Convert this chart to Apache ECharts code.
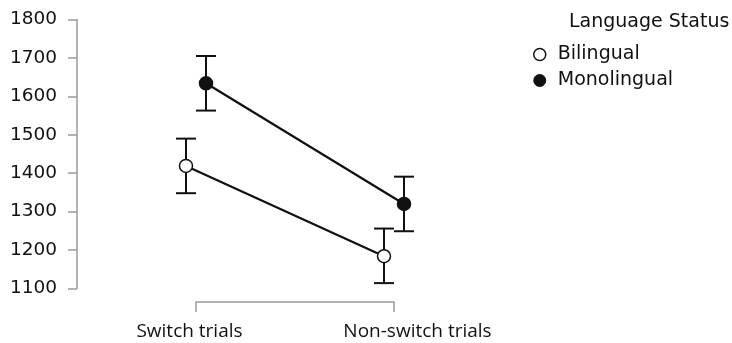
<!DOCTYPE html>
<html>
<head>
<meta charset="utf-8">
<script src="https://cdn.jsdelivr.net/npm/echarts@6/dist/echarts.min.js"></script>
<style>html,body{margin:0;padding:0;background:#fff;}#c{width:732px;height:343px;}</style>
</head>
<body>
<div id="c"></div>
<script>
const categories = ['Switch trials', 'Non-switch trials'];
const yTicks = [1100, 1200, 1300, 1400, 1500, 1600, 1700, 1800];
const bilingualMean = [1419, 1184];
const bilingualLow = [1348, 1114];
const bilingualHigh = [1490, 1256];
const monolingualMean = [1634, 1320];
const monolingualLow = [1563, 1249];
const monolingualHigh = [1705, 1391];

const INK = '#111';

function makeRender(mean, lo, hi, dx, fill) {
  return function (params, api) {
    const i = params.dataIndex;
    const p = api.coord([i, mean[i]]);
    const x = p[0] + dx;
    const yHi = api.coord([i, hi[i]])[1];
    const yLo = api.coord([i, lo[i]])[1];
    const children = [];
    if (i < mean.length - 1) {
      const q = api.coord([i + 1, mean[i + 1]]);
      children.push({ type: 'line', shape: { x1: x, y1: p[1], x2: q[0] + dx, y2: q[1] },
        style: { stroke: INK, lineWidth: 2.2 } });
    }
    children.push({ type: 'line', shape: { x1: x, y1: yHi, x2: x, y2: yLo }, style: { stroke: INK, lineWidth: 2 } });
    children.push({ type: 'line', shape: { x1: x - 10, y1: yHi, x2: x + 10, y2: yHi }, style: { stroke: INK, lineWidth: 2 } });
    children.push({ type: 'line', shape: { x1: x - 10, y1: yLo, x2: x + 10, y2: yLo }, style: { stroke: INK, lineWidth: 2 } });
    children.push({ type: 'circle', shape: { cx: x, cy: p[1], r: 6.5 }, style: { fill: fill, stroke: INK, lineWidth: 1.5 } });
    return { type: 'group', children: children };
  };
}

const chart = echarts.init(document.getElementById('c'), null, { renderer: 'canvas' });
chart.setOption({
  backgroundColor: '#fff',
  animation: false,
  title: {
    text: 'Language Status', left: 569, top: 12, padding: 0,
    textStyle: { fontFamily: 'DejaVu Sans', fontSize: 19, fontWeight: 'normal', color: INK, lineHeight: 20 }
  },
  legend: {
    orient: 'vertical', left: 533, top: 44.5, padding: 0,
    itemWidth: 12, itemHeight: 12, itemGap: 6,
    textStyle: { fontFamily: 'DejaVu Sans', fontSize: 19, color: INK, lineHeight: 20, padding: [0, 0, 0, 7] },
    selectedMode: false,
    data: [
      { name: 'Bilingual', icon: 'circle', itemStyle: { color: '#fff', borderColor: INK, borderWidth: 1.5 } },
      { name: 'Monolingual', icon: 'circle', itemStyle: { color: INK, borderColor: INK, borderWidth: 1 } }
    ]
  },
  grid: { left: 196, right: 338, top: 19.5, bottom: 54.5 },
  xAxis: {
    type: 'category', data: categories, boundaryGap: false, offset: 13.5,
    axisLine: { lineStyle: { color: '#9a9a9a', width: 1.5 } },
    axisTick: { show: true, length: 10, interval: 0, lineStyle: { color: '#9a9a9a', width: 1.5 } },
    splitLine: { show: false },
    axisLabel: {
      margin: 20, color: INK, fontFamily: 'Open Sans', fontSize: 19,
      interval: 0, showMinLabel: true, showMaxLabel: true, hideOverlap: false,
      formatter: function (v, idx) { return idx === 0 ? '{a|' + v + '}' : '{b|' + v + '}'; },
      rich: {
        a: { fontFamily: 'Open Sans', fontSize: 19, color: INK, padding: [0, 13, 0, 0] },
        b: { fontFamily: 'Open Sans', fontSize: 19, color: INK, padding: [0, 0, 0, 47] }
      }
    }
  },
  yAxis: {
    type: 'value', min: yTicks[0], max: yTicks[yTicks.length - 1], interval: 100, offset: 119,
    axisLine: { show: true, lineStyle: { color: '#9a9a9a', width: 1.5 } },
    axisTick: { show: true, length: 9, lineStyle: { color: '#9a9a9a', width: 1.5 } },
    splitLine: { show: false },
    axisLabel: { margin: 20, color: INK, fontFamily: 'DejaVu Sans', fontSize: 18.5,
      formatter: function (v) { return String(v); } }
  },
  series: [
    {
      name: 'Bilingual', type: 'custom', clip: false,
      itemStyle: { color: '#fff', borderColor: INK },
      data: bilingualMean.map((v, i) => [i, v, bilingualLow[i], bilingualHigh[i]]),
      renderItem: makeRender(bilingualMean, bilingualLow, bilingualHigh, -10, '#fff')
    },
    {
      name: 'Monolingual', type: 'custom', clip: false,
      itemStyle: { color: INK, borderColor: INK },
      data: monolingualMean.map((v, i) => [i, v, monolingualLow[i], monolingualHigh[i]]),
      renderItem: makeRender(monolingualMean, monolingualLow, monolingualHigh, 10, INK)
    }
  ]
});
</script>
</body>
</html>
